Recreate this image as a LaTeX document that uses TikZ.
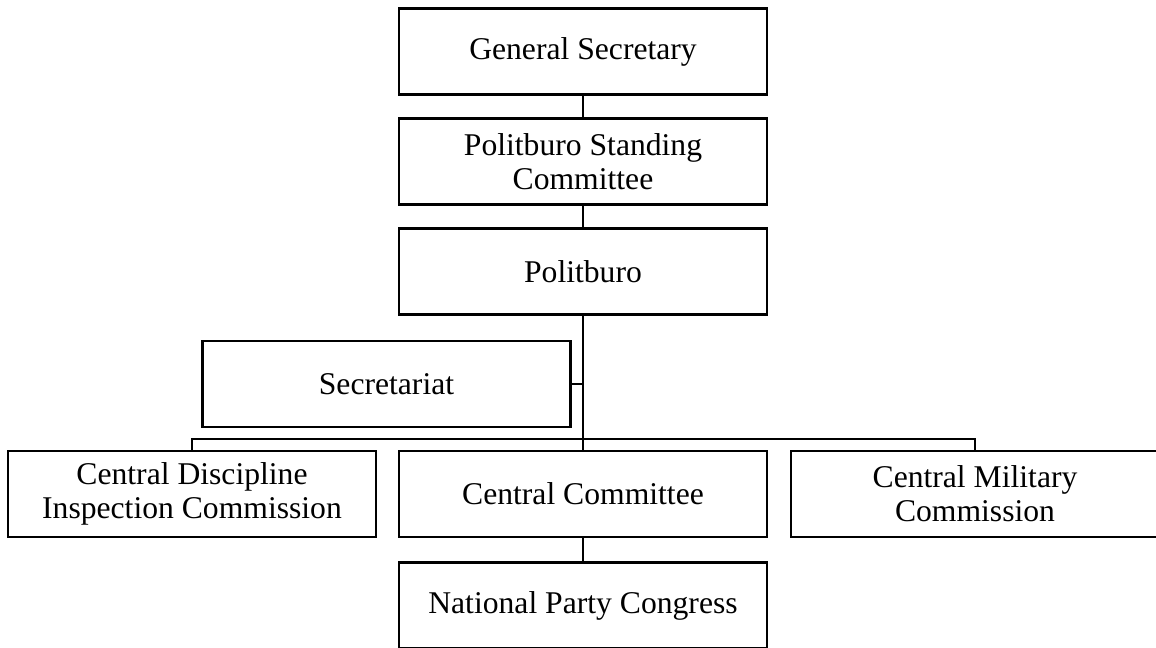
\documentclass[tikz,border=0pt]{standalone}
\usepackage{fontspec}
\setmainfont{Liberation Serif}
\usepackage{tikz}

\tikzset{
  unit/.style={draw, line width=2pt, align=center, inner sep=0pt, outer sep=0pt,
    minimum width=9.2cm, minimum height=2.15cm,
    font=\fontsize{22.5}{24}\selectfont},
  link/.style={line width=1.6pt}
}

\begin{document}
\begin{tikzpicture}[x=0.025cm, y=-0.025cm]
      \clip (0,0) rectangle (1156,648);

      % top chain
      \node[unit](gs) at (583, 51.5){General Secretary};
      \node[unit](psc) at (583, 161.5){Politburo Standing\\Committee};
      \node[unit](pb) at (583, 271.5){Politburo};

      % secretariat
      \node[unit](sec) at (386.5, 384){Secretariat};

      % row of commissions
      \node[unit](cdic) at (192, 494){Central Discipline\\Inspection Commission};
      \node[unit](cc) at (583, 494){Central Committee};
      \node[unit](cmc) at (975, 494){Central Military\\Commission};

      % congress
      \node[unit](npc) at (583, 605.5){National Party Congress};

      % links
      \coordinate (bus) at (583, 439);
      \draw [link] (gs.south) -- (psc.north);
      \draw [link] (psc.south) -- (pb.north);
      \draw [link] (pb.south) -- (cc.north);
      \draw [link] (sec.east) -- (sec.east -| pb.south);
      \draw [link] (cdic.north) -- (cdic.north |- bus) -- (cmc.north |- bus) -- (cmc.north);
      \draw [link] (cc.south) -- (npc.north);
\end{tikzpicture}
\end{document}
